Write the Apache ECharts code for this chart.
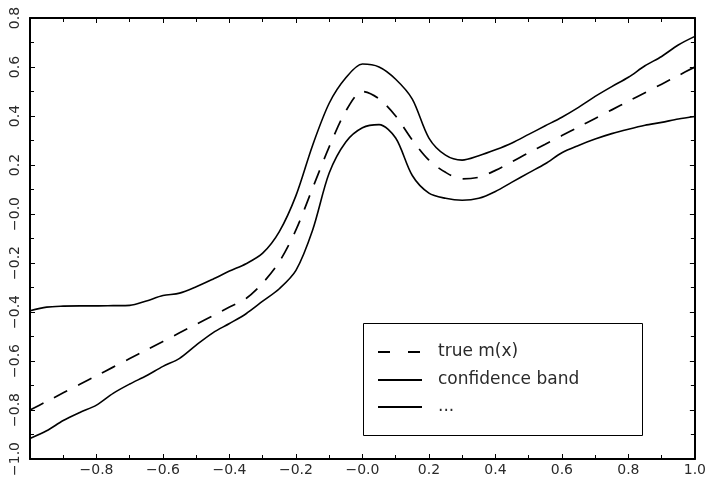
<!DOCTYPE html>
<html>
<head>
<meta charset="utf-8">
<script src="https://cdn.jsdelivr.net/npm/echarts@6/dist/echarts.min.js"></script>
<style>
  html, body { margin: 0; padding: 0; background: #fff; }
  #chart { width: 709px; height: 487px; }
</style>
</head>
<body>
<div id="chart"></div>
<script>
// x positions (step 0.05)
var xs = [-1.00,-0.95,-0.90,-0.85,-0.80,-0.75,-0.70,-0.65,-0.60,-0.55,-0.50,-0.45,-0.40,-0.35,-0.30,-0.25,-0.20,-0.15,-0.10,-0.05,
          0.00,0.05,0.10,0.15,0.20,0.25,0.30,0.35,0.40,0.45,0.50,0.55,0.60,0.65,0.70,0.75,0.80,0.85,0.90,0.95,1.00];
// true m(x) (dashed)
var trueM = [-0.800,-0.765,-0.730,-0.695,-0.660,-0.625,-0.590,-0.555,-0.520,-0.485,-0.450,-0.415,-0.380,-0.345,-0.282,-0.195,-0.065,0.105,0.274,0.420,
             0.500,0.470,0.400,0.302,0.220,0.170,0.143,0.150,0.178,0.213,0.250,0.285,0.320,0.355,0.390,0.425,0.460,0.495,0.530,0.565,0.600];
// upper confidence band
var upper = [-0.395,-0.380,-0.376,-0.375,-0.375,-0.374,-0.373,-0.355,-0.333,-0.323,-0.297,-0.266,-0.233,-0.203,-0.160,-0.072,0.075,0.280,0.452,0.556,
             0.612,0.600,0.550,0.469,0.310,0.240,0.220,0.238,0.262,0.290,0.325,0.360,0.395,0.435,0.480,0.520,0.558,0.605,0.643,0.690,0.725];
// lower confidence band
var lower = [-0.916,-0.885,-0.843,-0.810,-0.780,-0.732,-0.694,-0.660,-0.622,-0.589,-0.535,-0.485,-0.447,-0.407,-0.356,-0.305,-0.230,-0.066,0.167,0.294,
             0.352,0.365,0.310,0.157,0.085,0.064,0.056,0.064,0.092,0.130,0.168,0.205,0.250,0.280,0.306,0.328,0.346,0.362,0.374,0.388,0.398];
var legendNames = ['true m(x)', 'confidence band', '...'];

function pairs(ys) { return xs.map(function (x, i) { return [x, ys[i]]; }); }
function fmt(v) {
  var s = (Math.abs(v) < 1e-9) ? '0.0' : Math.abs(v).toFixed(1);
  return (v < 0 || Math.abs(v) < 1e-9) ? '\u2212' + s : s;
}
var FONT = 'DejaVu Sans';
var TXT = '#2a2a2a';
var axisCommon = {
  type: 'value',
  axisLine: { show: true, onZero: false, lineStyle: { color: '#000', width: 2 } },
  axisTick: { show: true, inside: true, length: 5, lineStyle: { color: '#000', width: 1 } },
  minorTick: { show: true, splitNumber: 2, length: 4, lineStyle: { color: '#000', width: 1 } },
  splitLine: { show: false },
  minorSplitLine: { show: false }
};

// legend drawn as graphic elements (box, line samples, real text)
var legendRows = [352, 380, 407];
var legendGraphic = [{
  type: 'rect', z: 10, silent: true,
  shape: { x: 363.5, y: 323.5, width: 279, height: 112 },
  style: { fill: '#fff', stroke: '#000', lineWidth: 1 }
}];
legendNames.forEach(function (name, i) {
  legendGraphic.push({
    type: 'line', z: 11, silent: true,
    shape: { x1: 378, y1: legendRows[i], x2: 422, y2: legendRows[i] },
    style: { stroke: '#000', lineWidth: 2, lineDash: i === 0 ? [12, 18] : null }
  });
  legendGraphic.push({
    type: 'text', z: 11, silent: true,
    x: 438, y: legendRows[i],
    style: { text: name, font: '17px "DejaVu Sans"', fill: TXT, textVerticalAlign: 'middle', textAlign: 'left' }
  });
});

var chart = echarts.init(document.getElementById('chart'), null, { renderer: 'canvas' });
chart.setOption({
  backgroundColor: '#fff',
  animation: false,
  grid: { left: 30, right: 14, top: 18, bottom: 28, containLabel: false },
  xAxis: [
    Object.assign({}, axisCommon, {
      position: 'bottom', min: -1, max: 1, interval: 0.2,
      axisLabel: {
        show: true, margin: 4, fontFamily: FONT, fontSize: 14, color: TXT,
        formatter: function (v) { return (Math.abs(v + 1) < 1e-9) ? '' : fmt(v); }
      }
    }),
    Object.assign({}, axisCommon, {
      position: 'top', min: -1, max: 1, interval: 0.2,
      axisLabel: { show: false }
    })
  ],
  yAxis: [
    Object.assign({}, axisCommon, {
      position: 'left', min: -1, max: 0.8, interval: 0.2,
      axisLabel: {
        show: true, rotate: 90, margin: 8, fontFamily: FONT, fontSize: 14, color: TXT,
        formatter: function (v) { return fmt(v); }
      }
    }),
    Object.assign({}, axisCommon, {
      position: 'right', min: -1, max: 0.8, interval: 0.2,
      axisLabel: { show: false }
    })
  ],
  graphic: legendGraphic,
  series: [
    { name: legendNames[0], type: 'line', data: pairs(trueM), symbol: 'none', smooth: 0.3,
      lineStyle: { color: '#000', width: 1.7, type: [15, 12] }, itemStyle: { color: '#000' } },
    { name: legendNames[1], type: 'line', data: pairs(upper), symbol: 'none', smooth: 0.3,
      lineStyle: { color: '#000', width: 1.6 }, itemStyle: { color: '#000' } },
    { name: legendNames[2], type: 'line', data: pairs(lower), symbol: 'none', smooth: 0.3,
      lineStyle: { color: '#000', width: 1.6 }, itemStyle: { color: '#000' } }
  ]
});
</script>
</body>
</html>
